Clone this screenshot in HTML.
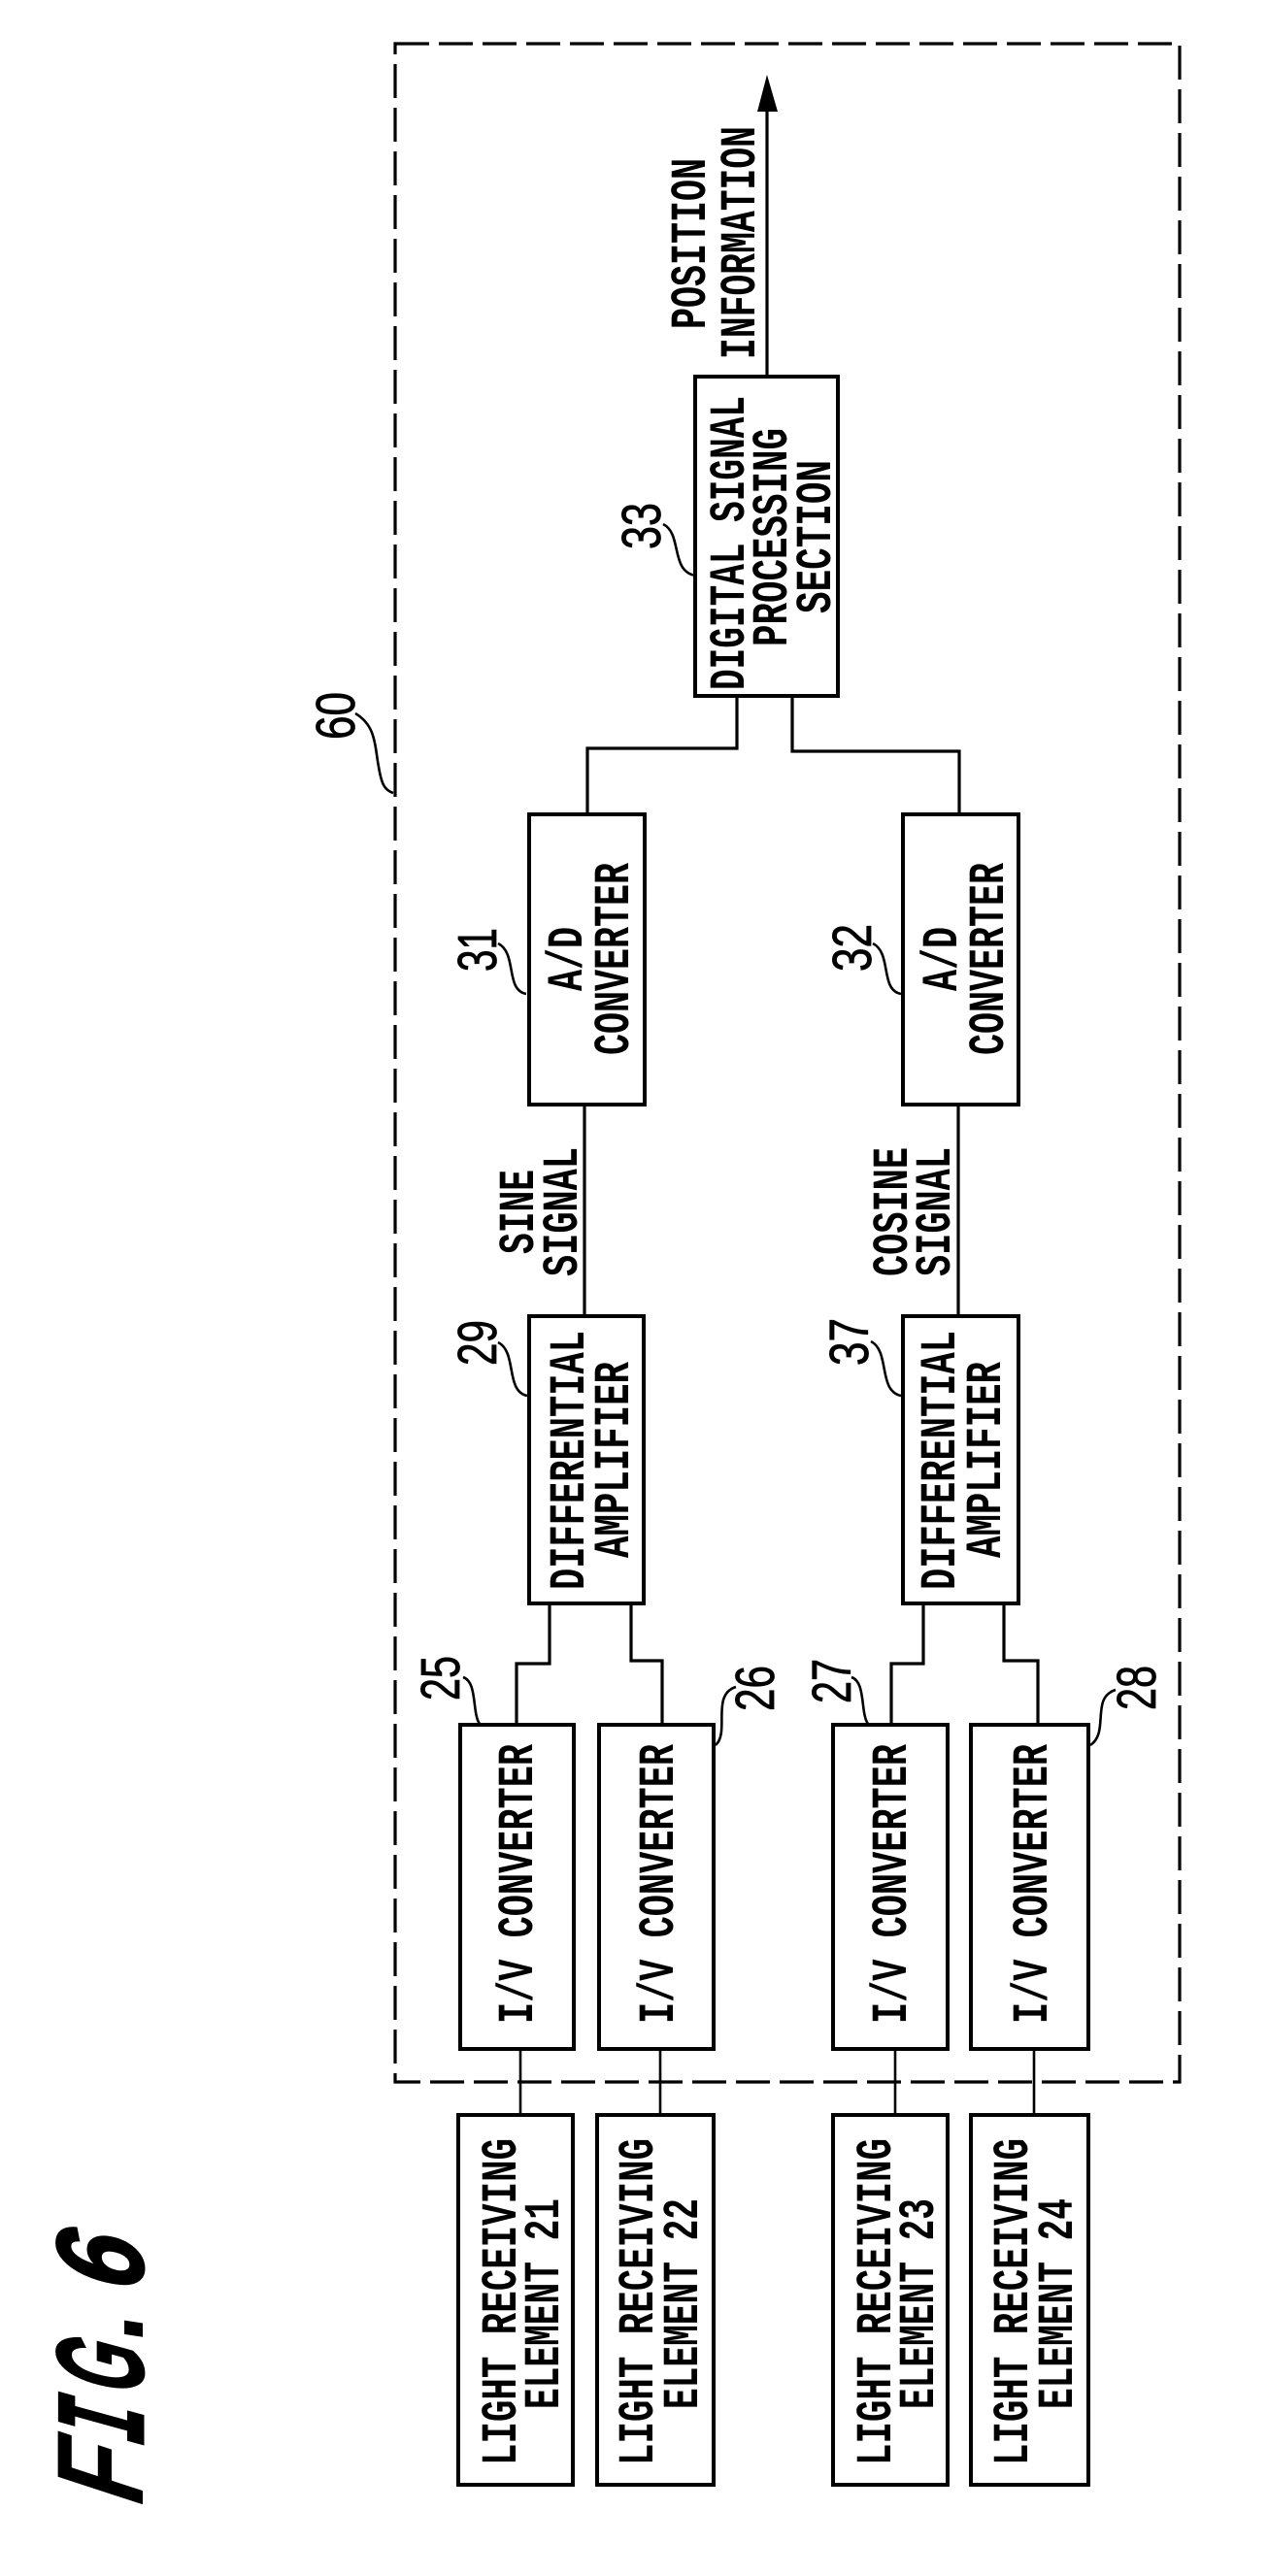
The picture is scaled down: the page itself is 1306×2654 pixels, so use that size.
<!DOCTYPE html>
<html><head><meta charset="utf-8"><style>
html,body{margin:0;padding:0;background:#fff}
svg{display:block}
.m{font-family:"Liberation Mono",monospace;font-weight:700;font-size:52px;fill:#000}
.n{font-family:"Liberation Sans",sans-serif;font-size:57px;fill:#000;stroke:#000;stroke-width:.8}
.f{font-family:"Liberation Sans",sans-serif;font-weight:700;font-style:italic;font-size:127px;fill:#000}
.fs{stroke:#000;stroke-width:2.5}
.fm{font-family:"Liberation Mono",monospace;font-weight:700;font-style:italic;font-size:130px;fill:#000;stroke:#000;stroke-width:3}
.b{fill:none;stroke:#000;stroke-width:4}
.w{fill:none;stroke:#000;stroke-width:3.2}
.l{fill:none;stroke:#000;stroke-width:2.6}
</style></head><body>
<svg width="1306" height="2654" viewBox="0 0 1306 2654" xmlns="http://www.w3.org/2000/svg">
<rect width="1306" height="2654" fill="#fff"/>
<rect x="407" y="45" width="808" height="2100" fill="none" stroke="#000" stroke-width="3.2" stroke-dasharray="35 10"/>

<!-- boxes -->
<rect class="b" x="716" y="388" width="147" height="329"/>
<rect class="b" x="545" y="839" width="119" height="299"/>
<rect class="b" x="930" y="839" width="119" height="299"/>
<rect class="b" x="545" y="1356" width="118" height="296"/>
<rect class="b" x="930" y="1356" width="119" height="296"/>
<rect class="b" x="474" y="1777" width="117" height="334"/>
<rect class="b" x="617" y="1777" width="118" height="334"/>
<rect class="b" x="858" y="1777" width="118" height="334"/>
<rect class="b" x="1000" y="1777" width="121" height="334"/>
<rect class="b" x="472" y="2179" width="118" height="381"/>
<rect class="b" x="615" y="2179" width="120" height="381"/>
<rect class="b" x="858" y="2179" width="118" height="381"/>
<rect class="b" x="1000" y="2179" width="121" height="381"/>

<!-- wires -->
<path class="w" d="M790 388V110"/>
<path d="M790 77L801 115H780Z" fill="#000"/>
<path class="w" d="M759 717V771H605V839"/>
<path class="w" d="M816 717V774H988V839"/>
<path class="w" d="M602 1138V1356"/>
<path class="w" d="M987 1138V1356"/>
<path class="w" d="M566 1652V1714H532V1777"/>
<path class="w" d="M650 1652V1711H682V1777"/>
<path class="w" d="M951 1652V1714H918V1777"/>
<path class="w" d="M1034 1652V1711H1069V1777"/>
<path class="l" d="M536 2111V2179M680 2111V2179M922 2111V2179M1065 2111V2179"/>

<!-- leaders -->
<path class="l" d="M366 735C388 748 386 770 390 790C393 808 396 814 405 817"/>
<path class="l" d="M683 540C703 550 690 588 716 593"/>
<path class="l" d="M513 972C533 982 520 1020 542 1024"/>
<path class="l" d="M899 972C919 982 906 1020 928 1024"/>
<path class="l" d="M513 1383C533 1393 520 1433 543 1438"/>
<path class="l" d="M897 1382C917 1392 904 1433 928 1438"/>
<path class="l" d="M477 1728C492 1733 486 1765 494 1776"/>
<path class="l" d="M877 1728C892 1733 886 1765 894 1776"/>
<path class="l" d="M758 1738C732 1746 752 1785 737 1798"/>
<path class="l" d="M1149 1741C1123 1749 1143 1785 1123 1798"/>

<!-- reference numerals -->
<text class="n" transform="translate(365,762) rotate(-90)" textLength="49" lengthAdjust="spacingAndGlyphs">60</text>
<text class="n" transform="translate(680,566) rotate(-90)" textLength="48" lengthAdjust="spacingAndGlyphs">33</text>
<text class="n" transform="translate(511,1001) rotate(-90)" textLength="45" lengthAdjust="spacingAndGlyphs">31</text>
<text class="n" transform="translate(897,1001) rotate(-90)" textLength="49" lengthAdjust="spacingAndGlyphs">32</text>
<text class="n" transform="translate(511,1407) rotate(-90)" textLength="47" lengthAdjust="spacingAndGlyphs">29</text>
<text class="n" transform="translate(894,1407) rotate(-90)" textLength="49" lengthAdjust="spacingAndGlyphs">37</text>
<text class="n" transform="translate(473,1752) rotate(-90)" textLength="46" lengthAdjust="spacingAndGlyphs">25</text>
<text class="n" transform="translate(797,1763) rotate(-90)" textLength="47" lengthAdjust="spacingAndGlyphs">26</text>
<text class="n" transform="translate(876,1755) rotate(-90)" textLength="46" lengthAdjust="spacingAndGlyphs">27</text>
<text class="n" transform="translate(1190,1762) rotate(-90)" textLength="46" lengthAdjust="spacingAndGlyphs">28</text>

<!-- labels -->
<text class="m" transform="translate(726,339) rotate(-90)" textLength="176" lengthAdjust="spacingAndGlyphs">POSITION</text>
<text class="m" transform="translate(777,370) rotate(-90)" textLength="240" lengthAdjust="spacingAndGlyphs">INFORMATION</text>
<text class="m" transform="translate(766,711) rotate(-90)" textLength="303" lengthAdjust="spacingAndGlyphs">DIGITAL SIGNAL</text>
<text class="m" transform="translate(810,666) rotate(-90)" textLength="225" lengthAdjust="spacingAndGlyphs">PROCESSING</text>
<text class="m" transform="translate(855,632) rotate(-90)" textLength="158" lengthAdjust="spacingAndGlyphs">SECTION</text>

<text class="m" transform="translate(599,1021) rotate(-90)" textLength="66" lengthAdjust="spacingAndGlyphs">A/D</text>
<text class="m" transform="translate(647,1087) rotate(-90)" textLength="198" lengthAdjust="spacingAndGlyphs">CONVERTER</text>
<text class="m" transform="translate(985,1021) rotate(-90)" textLength="66" lengthAdjust="spacingAndGlyphs">A/D</text>
<text class="m" transform="translate(1033,1087) rotate(-90)" textLength="198" lengthAdjust="spacingAndGlyphs">CONVERTER</text>

<text class="m" transform="translate(549,1292) rotate(-90)" textLength="87" lengthAdjust="spacingAndGlyphs">SINE</text>
<text class="m" transform="translate(594,1315) rotate(-90)" textLength="133" lengthAdjust="spacingAndGlyphs">SIGNAL</text>
<text class="m" transform="translate(934,1315) rotate(-90)" textLength="133" lengthAdjust="spacingAndGlyphs">COSINE</text>
<text class="m" transform="translate(978,1315) rotate(-90)" textLength="133" lengthAdjust="spacingAndGlyphs">SIGNAL</text>

<text class="m" transform="translate(601,1638) rotate(-90)" textLength="267" lengthAdjust="spacingAndGlyphs">DIFFERENTIAL</text>
<text class="m" transform="translate(647,1605) rotate(-90)" textLength="202" lengthAdjust="spacingAndGlyphs">AMPLIFIER</text>
<text class="m" transform="translate(983,1638) rotate(-90)" textLength="267" lengthAdjust="spacingAndGlyphs">DIFFERENTIAL</text>
<text class="m" transform="translate(1030,1605) rotate(-90)" textLength="202" lengthAdjust="spacingAndGlyphs">AMPLIFIER</text>

<text class="m" transform="translate(548,2085) rotate(-90)" textLength="288" lengthAdjust="spacingAndGlyphs">I/V CONVERTER</text>
<text class="m" transform="translate(693,2085) rotate(-90)" textLength="288" lengthAdjust="spacingAndGlyphs">I/V CONVERTER</text>
<text class="m" transform="translate(933,2085) rotate(-90)" textLength="288" lengthAdjust="spacingAndGlyphs">I/V CONVERTER</text>
<text class="m" transform="translate(1078,2085) rotate(-90)" textLength="288" lengthAdjust="spacingAndGlyphs">I/V CONVERTER</text>

<text class="m" transform="translate(531,2540) rotate(-90)" textLength="337" lengthAdjust="spacingAndGlyphs">LIGHT RECEIVING</text>
<text class="m" transform="translate(575,2482) rotate(-90)" textLength="217" lengthAdjust="spacingAndGlyphs">ELEMENT 21</text>
<text class="m" transform="translate(672,2540) rotate(-90)" textLength="337" lengthAdjust="spacingAndGlyphs">LIGHT RECEIVING</text>
<text class="m" transform="translate(718,2482) rotate(-90)" textLength="217" lengthAdjust="spacingAndGlyphs">ELEMENT 22</text>
<text class="m" transform="translate(917,2540) rotate(-90)" textLength="337" lengthAdjust="spacingAndGlyphs">LIGHT RECEIVING</text>
<text class="m" transform="translate(961,2482) rotate(-90)" textLength="217" lengthAdjust="spacingAndGlyphs">ELEMENT 23</text>
<text class="m" transform="translate(1058,2540) rotate(-90)" textLength="337" lengthAdjust="spacingAndGlyphs">LIGHT RECEIVING</text>
<text class="m" transform="translate(1104,2482) rotate(-90)" textLength="217" lengthAdjust="spacingAndGlyphs">ELEMENT 24</text>

<text class="f" transform="translate(147,2582) rotate(-90) skewX(-10)" textLength="60" lengthAdjust="spacingAndGlyphs">F</text>
<text class="fm" transform="translate(147,2520) rotate(-90) skewX(-10)" textLength="40" lengthAdjust="spacingAndGlyphs">I</text>
<text class="f fs" transform="translate(147,2468) rotate(-90) skewX(-10)" textLength="50" lengthAdjust="spacingAndGlyphs">G</text>
<text class="f" transform="translate(147,2410) rotate(-90)" textLength="28" lengthAdjust="spacingAndGlyphs">.</text>
<text class="f fs" transform="translate(147,2362) rotate(-90) skewX(-10)" textLength="54" lengthAdjust="spacingAndGlyphs">6</text>
</svg>
</body></html>
